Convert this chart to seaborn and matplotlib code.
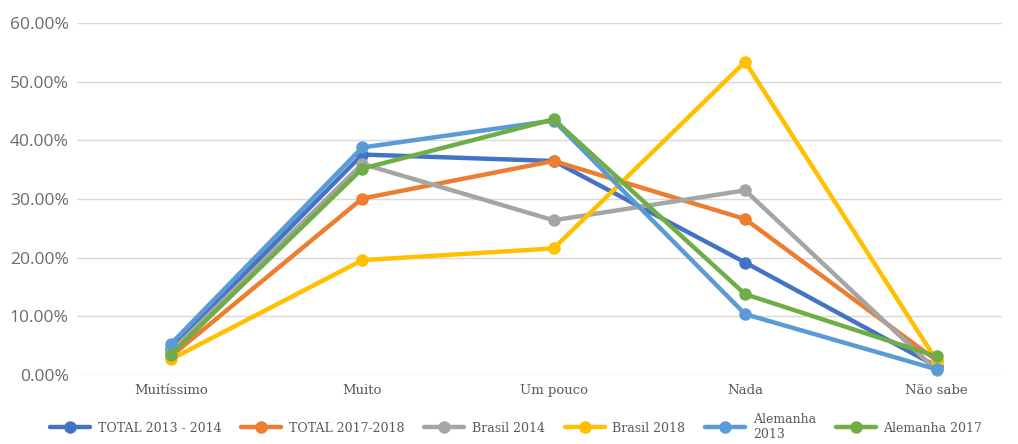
import pandas as pd
import seaborn as sns
import matplotlib.pyplot as plt
from matplotlib.ticker import FuncFormatter

categorias = ["Muitíssimo", "Muito", "Um pouco", "Nada", "Não sabe"]
series = ["TOTAL 2013 - 2014", "TOTAL 2017-2018", "Brasil 2014", "Brasil 2018", "Alemanha\n2013", "Alemanha 2017"]
total_2013_2014 = [4.5, 37.6, 36.5, 19.2, 1.5]
total_2017_2018 = [3.2, 30.1, 36.5, 26.6, 2.5]
brasil_2014 = [4.0, 36.0, 26.4, 31.5, 0.8]
brasil_2018 = [2.7, 19.6, 21.6, 53.4, 2.5]
alemanha_2013 = [5.3, 38.8, 43.4, 10.4, 1.0]
alemanha_2017 = [3.5, 35.2, 43.6, 13.8, 3.2]
cores = ["#4472C4", "#ED7D31", "#A5A5A5", "#FFC000", "#5B9BD5", "#70AD47"]

valores = [total_2013_2014, total_2017_2018, brasil_2014, brasil_2018, alemanha_2013, alemanha_2017]
linhas = []
for s, vals in zip(series, valores):
    for i, v in enumerate(vals):
        linhas.append({"serie": s, "pos": i, "valor": v / 100})
df = pd.DataFrame(linhas)

sns.set_style("white")
fig, ax = plt.subplots(figsize=(10.18, 4.44), dpi=100)
fig.subplots_adjust(left=0.0756, right=0.984, top=0.948, bottom=0.155)

sns.lineplot(data=df, x="pos", y="valor", hue="serie", palette=cores, marker="o",
             markersize=9, markeredgewidth=0, linewidth=3.2, ax=ax, clip_on=False)

ax.set_xlim(-0.49, 4.34)
ax.set_ylim(0, 0.6)
ax.set_yticks([0, 0.1, 0.2, 0.3, 0.4, 0.5, 0.6])
ax.yaxis.set_major_formatter(FuncFormatter(lambda v, p: f"{v*100:.2f}%"))
ax.set_xticks(range(len(categorias)))
ax.set_xticklabels(categorias, family="DejaVu Serif", fontsize=9.5, color="#595959")
for lab in ax.get_yticklabels():
    lab.set_fontsize(12.5)
    lab.set_color("#6b6b6b")
    lab.set_family("Open Sans")
ax.grid(axis="y", color="#d9d9d9", linewidth=1)
ax.set_axisbelow(True)
for sp in ax.spines.values():
    sp.set_visible(False)
ax.tick_params(axis="both", length=0, pad=6)
ax.tick_params(axis="y", pad=6)
ax.set_xlabel("")
ax.set_ylabel("")

leg = ax.legend(loc="upper center", bbox_to_anchor=(0.475, -0.075), ncol=6, frameon=False,
                handlelength=3.2, columnspacing=1.6, handletextpad=0.6,
                prop={"family": "DejaVu Serif", "size": 9})
for t in leg.get_texts():
    t.set_color("#595959")

fig.savefig("out.png", dpi=100)
